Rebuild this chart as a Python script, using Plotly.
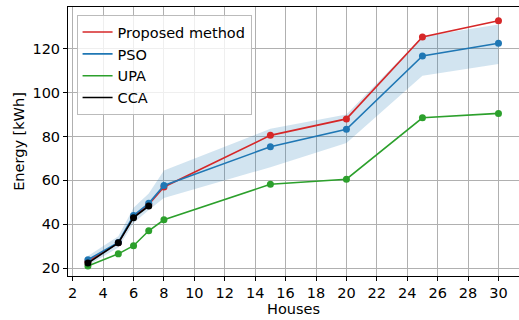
import plotly.graph_objects as go

houses = [3, 5, 6, 7, 8, 15, 20, 25, 30]
proposed = [23.0, 31.5, 43.5, 49.0, 57.0, 80.5, 88.0, 125.3, 132.7]
pso = [23.8, 31.7, 44.0, 49.5, 57.7, 75.3, 83.3, 116.7, 122.5]
pso_upper = [25.5, 34.5, 47.5, 54.0, 64.5, 83.5, 90.0, 125.5, 131.0]
pso_lower = [21.2, 29.4, 40.5, 46.5, 52.0, 66.0, 77.0, 107.7, 113.0]
upa = [21.0, 26.5, 30.2, 37.0, 42.0, 58.2, 60.5, 88.5, 90.5]
cca_houses = [3, 5, 6, 7]
cca = [22.3, 31.5, 43.0, 48.3]

x_ticks = list(range(2, 31, 2))
y_ticks = [20, 40, 60, 80, 100, 120]

RED = "#d62728"
BLUE = "#1f77b4"
GREEN = "#2ca02c"
BLACK = "#000000"
FONT = "DejaVu Sans"

fig = go.Figure()

# shaded band for PSO
fig.add_trace(go.Scatter(x=houses, y=pso_upper, mode="lines", line=dict(width=0),
                         showlegend=False, hoverinfo="skip"))
fig.add_trace(go.Scatter(x=houses, y=pso_lower, mode="lines", line=dict(width=0),
                         fill="tonexty", fillcolor="rgba(31,119,180,0.2)",
                         showlegend=False, hoverinfo="skip"))

series = [
    ("Proposed method", houses, proposed, RED),
    ("PSO", houses, pso, BLUE),
    ("UPA", houses, upa, GREEN),
    ("CCA", cca_houses, cca, BLACK),
]
for i, (name, xs, ys, col) in enumerate(series):
    fig.add_trace(go.Scatter(x=xs, y=ys, mode="lines", name=name,
                             line=dict(color=col, width=1.6),
                             legendgroup=f"g{i}"))
    fig.add_trace(go.Scatter(x=xs, y=ys, mode="markers", showlegend=False,
                             marker=dict(color=col, size=7),
                             legendgroup=f"g{i}"))

axis_common = dict(
    showgrid=True, gridcolor="#b0b0b0", gridwidth=1,
    showline=True, linecolor="black", linewidth=1,
    ticks="outside", ticklen=4, tickcolor="black",
    tickfont=dict(family=FONT, size=14.5, color="black"),
    zeroline=False, automargin=False,
)

fig.update_layout(
    width=519, height=320,
    margin=dict(l=68, r=0, t=7, b=44),
    plot_bgcolor="white", paper_bgcolor="white",
    font=dict(family=FONT, size=14.5, color="black"),
    xaxis=dict(range=[1.69, 31.35], tickvals=x_ticks, mirror=True,
               title=dict(text="Houses", font=dict(family=FONT, size=14.5), standoff=2),
               **axis_common),
    yaxis=dict(range=[16.4, 139], tickvals=y_ticks,
               title=dict(text="Energy [kWh]", font=dict(family=FONT, size=14.5), standoff=4),
               **axis_common),
    legend=dict(x=0.019, y=0.97, xanchor="left", yanchor="top",
                bgcolor="rgba(255,255,255,0.8)", bordercolor="#bbbbbb", borderwidth=1,
                font=dict(family=FONT, size=14.5), traceorder="grouped",
                tracegroupgap=0),
    showlegend=True,
)

fig.write_html("out.html", config={"displayModeBar": False},
               post_script="document.body.style.margin='0';")
